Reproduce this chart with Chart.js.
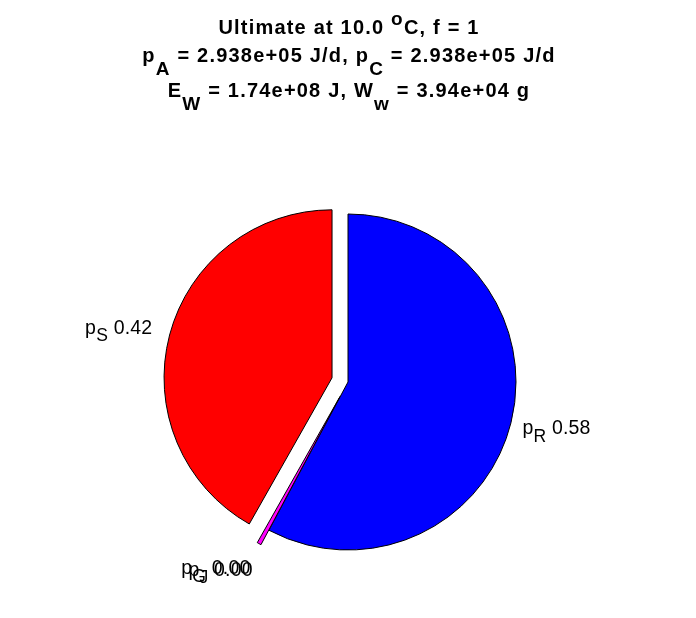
<!DOCTYPE html>
<html><head><meta charset="utf-8">
<script src="https://cdn.jsdelivr.net/npm/chart.js@4"></script>
<style>html,body{margin:0;padding:0;background:#fff}canvas{display:block}</style>
</head><body>
<canvas id="c" width="696" height="618"></canvas>
<script>
// ---- data ----
const fluxSymbol = 'p';
const fluxNames = ['R', 'J', 'G', 'S'];            // subscripts of p_*
const fluxFractions = [0.578, 0.000, 0.004, 0.418];
const fluxColors = ['#0000ff', '#00ff00', '#ff00ff', '#ff0000'];
const explodeFlags = [0, 1, 1, 1];
const titleLines = [
  [['Ultimate at 10.0 ', ''], ['o', '^'], ['C, f = 1', '']],
  [['p', ''], ['A', '_'], [' = 2.938e+05 J/d, p', ''], ['C', '_'], [' = 2.938e+05 J/d', '']],
  [['E', ''], ['W', '_'], [' = 1.74e+08 J, W', ''], ['w', '_'], [' = 3.94e+04 g', '']]
];

// ---- style ----
const FONT = '"Liberation Sans", Arial, Helvetica, sans-serif';
const EXPLODE_PX = 16.5;
const PIE_RADIUS = 168;

function drawRich(ctx, segs, x, y, align, size, bold, subScale, subShift, supShift, spacing) {
  const fontFor = t => `${bold ? 'bold ' : ''}${t ? size * subScale : size}px ${FONT}`;
  ctx.letterSpacing = spacing + 'px';
  const widths = segs.map(([s, t]) => { ctx.font = fontFor(t); return ctx.measureText(s).width; });
  const w = widths.reduce((a, b) => a + b, 0);
  let cx = align === 'center' ? x - w / 2 : align === 'right' ? x - w : x;
  ctx.textAlign = 'left';
  ctx.textBaseline = 'alphabetic';
  segs.forEach(([s, t], i) => {
    ctx.font = fontFor(t);
    const dy = t === '_' ? subShift : t === '^' ? -supShift : 0;
    ctx.fillText(s, cx, y + dy);
    cx += widths[i];
  });
  ctx.letterSpacing = '0px';
}

function explodeVector(arc, i) {
  const mid = (arc.startAngle + arc.endAngle) / 2;
  const d = explodeFlags[i] ? EXPLODE_PX : 0;
  return [Math.cos(mid) * d, Math.sin(mid) * d, Math.cos(mid), Math.sin(mid)];
}

const explodePlugin = {
  id: 'explode',
  beforeDatasetDraw(chart, args) {
    const ctx = chart.ctx;
    args.meta.data.forEach((arc, i) => {
      const [tx, ty] = explodeVector(arc, i);
      ctx.save();
      ctx.translate(tx, ty);
      arc.draw(ctx);
      ctx.restore();
    });
    return false;
  }
};

const overlay = {
  id: 'overlay',
  afterDraw(chart) {
    const ctx = chart.ctx;
    ctx.save();
    ctx.fillStyle = '#000';
    const baselines = [34, 62, 97];
    titleLines.forEach((segs, i) => drawRich(ctx, segs, 349, baselines[i], 'center', 20, true, 0.95, 13, 9, 1.2));
    const meta = chart.getDatasetMeta(0);
    meta.data.forEach((arc, i) => {
      const [tx, ty, dx, dy] = explodeVector(arc, i);
      const r = arc.outerRadius * 1.07 + (explodeFlags[i] ? 6 : 0);
      const ax = arc.x + tx + dx * r;
      const ay = arc.y + ty + dy * r + 10.5 * dy + 6;
      const segs = [[fluxSymbol, ''], [fluxNames[i], '_'], [' ' + fluxFractions[i].toFixed(2), '']];
      drawRich(ctx, segs, ax, ay, dx >= 0 ? 'left' : 'right', 19.5, false, 0.9, 7.5, 0, 0.2);
    });
    ctx.restore();
  }
};

new Chart(document.getElementById('c'), {
  type: 'pie',
  data: {
    labels: fluxNames.map(n => fluxSymbol + n),
    datasets: [{
      data: fluxFractions,
      backgroundColor: fluxColors,
      borderColor: '#000000',
      borderWidth: 1,
      radius: PIE_RADIUS,
      offset: 0
    }]
  },
  options: {
    responsive: false,
    devicePixelRatio: 1,
    animation: false,
    events: [],
    layout: { padding: { top: 160, bottom: 14, left: 0, right: 0 } },
    plugins: { legend: { display: false }, title: { display: false }, tooltip: { enabled: false } }
  },
  plugins: [explodePlugin, overlay]
});
</script>
</body></html>
